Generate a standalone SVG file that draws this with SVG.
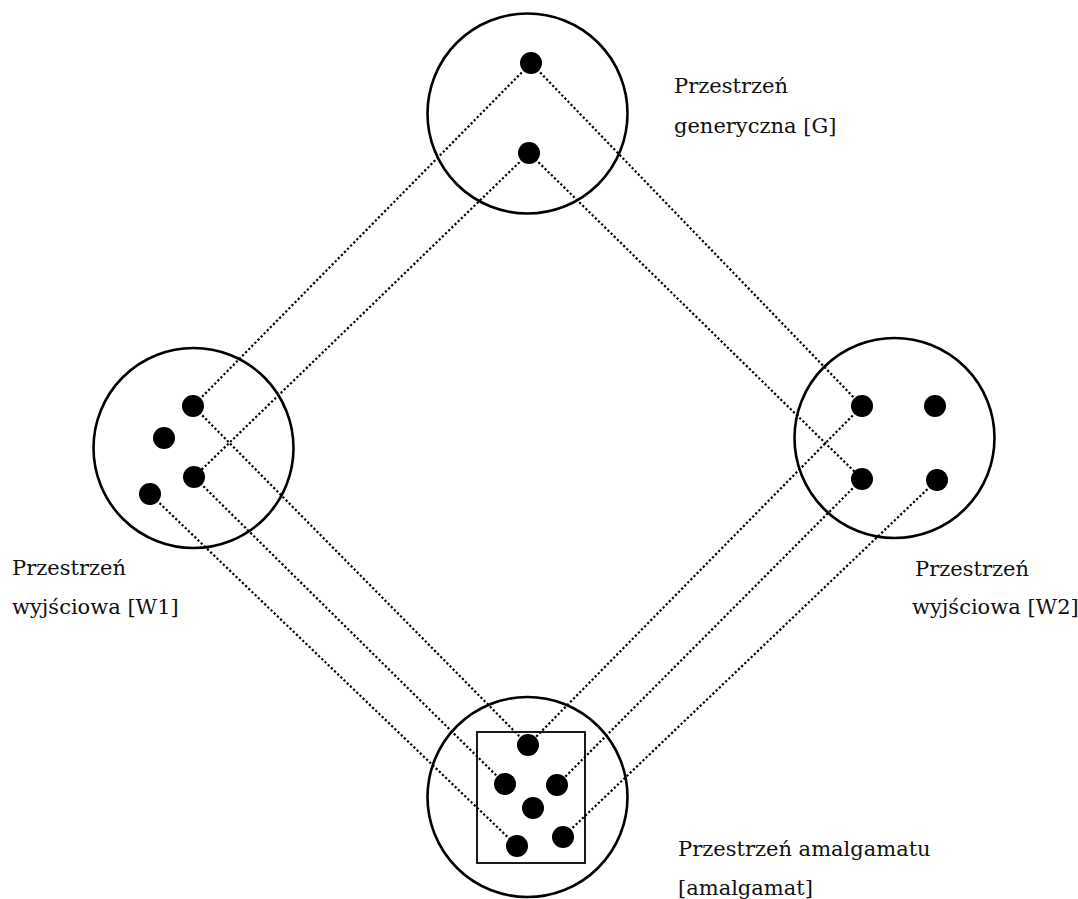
<svg xmlns="http://www.w3.org/2000/svg" width="1078" height="899" viewBox="0 0 1078 899">
<style>
.ring{fill:none;stroke:#000;stroke-width:2.6}
.box{fill:none;stroke:#000;stroke-width:1.8}
.dot{fill:#000}
.link{stroke:#000;stroke-width:2.2;stroke-dasharray:2.2 2.2;fill:none}
.lbl{font-family:"DejaVu Serif","Liberation Serif",serif;font-size:21px;fill:#111}
</style>
<rect width="1078" height="899" fill="#fff"/>
<g id="connectors">
<line class="link" x1="531" y1="63" x2="193" y2="406"/>
<line class="link" x1="531" y1="63" x2="862" y2="406"/>
<line class="link" x1="529" y1="153" x2="194" y2="477"/>
<line class="link" x1="529" y1="153" x2="862" y2="479"/>
<line class="link" x1="193" y1="406" x2="528" y2="745"/>
<line class="link" x1="194" y1="477" x2="505" y2="784"/>
<line class="link" x1="150" y1="494" x2="517" y2="846"/>
<line class="link" x1="862" y1="406" x2="528" y2="745"/>
<line class="link" x1="862" y1="479" x2="557" y2="785"/>
<line class="link" x1="937" y1="480" x2="563" y2="837"/>
</g>
<g id="generic">
<circle class="ring" cx="527.5" cy="113.5" r="100"/>
<circle class="dot" cx="531" cy="63" r="11"/>
<circle class="dot" cx="529" cy="153" r="11"/>
<text class="lbl" x="674" y="93">Przestrzeń</text>
<text class="lbl" x="674" y="133">generyczna [G]</text>
</g>
<g id="input1">
<circle class="ring" cx="193.5" cy="448" r="100"/>
<circle class="dot" cx="193" cy="406" r="11"/>
<circle class="dot" cx="164" cy="438" r="11"/>
<circle class="dot" cx="194" cy="477" r="11"/>
<circle class="dot" cx="150" cy="494" r="11"/>
<text class="lbl" x="12" y="575">Przestrzeń</text>
<text class="lbl" x="12" y="614">wyjściowa [W1]</text>
</g>
<g id="input2">
<circle class="ring" cx="894.5" cy="438" r="100"/>
<circle class="dot" cx="862" cy="406" r="11"/>
<circle class="dot" cx="935" cy="406" r="11"/>
<circle class="dot" cx="862" cy="479" r="11"/>
<circle class="dot" cx="937" cy="480" r="11"/>
<text class="lbl" x="915" y="576">Przestrzeń</text>
<text class="lbl" x="912" y="614">wyjściowa [W2]</text>
</g>
<g id="blend">
<circle class="ring" cx="527.5" cy="797" r="100"/>
<rect class="box" x="477" y="732" width="108" height="131"/>
<circle class="dot" cx="528" cy="745" r="11"/>
<circle class="dot" cx="505" cy="784" r="11"/>
<circle class="dot" cx="557" cy="785" r="11"/>
<circle class="dot" cx="533" cy="808" r="11"/>
<circle class="dot" cx="517" cy="846" r="11"/>
<circle class="dot" cx="563" cy="837" r="11"/>
<text class="lbl" x="678" y="856">Przestrzeń amalgamatu</text>
<text class="lbl" x="678" y="895">[amalgamat]</text>
</g>
</svg>
